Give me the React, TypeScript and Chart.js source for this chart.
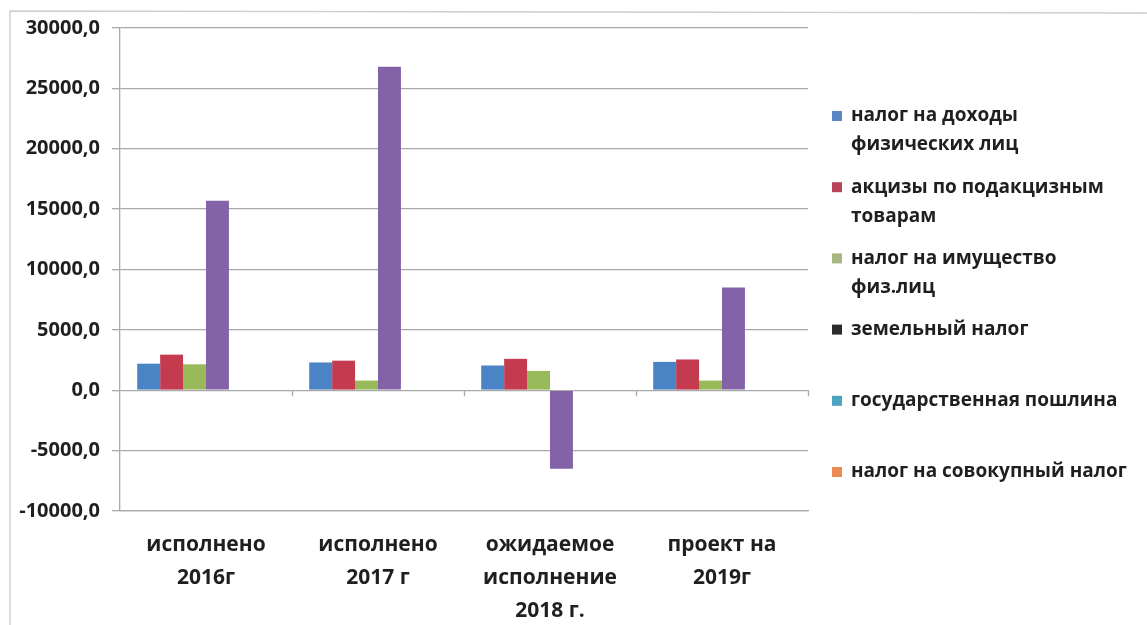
import React, { useEffect, useRef } from "react";
import { Chart, registerables } from "chart.js";

Chart.register(...registerables);

// ---- data ----
const categories: string[][] = [
  ["исполнено", "2016г"],
  ["исполнено", "2017 г"],
  ["ожидаемое", "исполнение", "2018 г."],
  ["проект на", "2019г"],
];

const seriesNames = [
  "налог на доходы физических лиц",
  "акцизы по подакцизным товарам",
  "налог на имущество физ.лиц",
  "земельный налог",
  "государственная пошлина",
  "налог на совокупный налог",
];

const legendLines: string[][] = [
  ["налог на доходы", "физических лиц"],
  ["акцизы по подакцизным", "товарам"],
  ["налог на имущество", "физ.лиц"],
  ["земельный налог"],
  ["государственная пошлина"],
  ["налог на совокупный налог"],
];

const incomeTax = [2200, 2300, 2050, 2350];
const excises = [2950, 2450, 2600, 2550];
const propertyTax = [2150, 800, 1600, 800];
const landTax = [15700, 26800, -6500, 8500];
const stateDuty = [0, 0, 0, 0];
const aggregateTax = [0, 0, 0, 0];

const yMin = -10000;
const yMax = 30000;
const yStep = 5000;

const barColors = ["#4a84c4", "#c43a4f", "#98b95a", "#8462a8", "#4aacc6", "#f79646"];
const legendColors = ["#5a86c3", "#b8455a", "#a7b782", "#2b2b2b", "#4aa3c0", "#ef8a55"];

const FONT = "'Open Sans'";
const TEXT = "#1f1f1f";
const GRID = "#a9a9a9";

const frameAndLegend = {
  id: "frameAndLegend",
  beforeDraw(chart: any) {
    const ctx = chart.ctx;
    ctx.save();
    ctx.fillStyle = "#ffffff";
    ctx.fillRect(0, 0, chart.width, chart.height);
    ctx.strokeStyle = "#cfcfcf";
    ctx.lineWidth = 1.5;
    ctx.beginPath();
    ctx.moveTo(10, 625);
    ctx.lineTo(10, 11);
    ctx.lineTo(1147, 13);
    ctx.stroke();
    ctx.restore();
  },
  afterDatasetsDraw(chart: any) {
    const ctx = chart.ctx;
    const xs = chart.scales.x;
    const ys = chart.scales.y;
    const y0 = ys.getPixelForValue(0);
    ctx.save();
    ctx.strokeStyle = GRID;
    ctx.lineWidth = 1.3;
    ctx.beginPath();
    for (let i = 1; i <= categories.length; i++) {
      const x = Math.round(xs.getPixelForValue(i - 0.5)) + 0.5;
      ctx.moveTo(x, y0);
      ctx.lineTo(x, y0 + 6);
    }
    ctx.stroke();
    ctx.restore();
  },
  afterDraw(chart: any) {
    const ctx = chart.ctx;
    ctx.save();
    ctx.font = `bold 19px ${FONT}`;
    ctx.textBaseline = "middle";
    ctx.textAlign = "left";
    legendLines.forEach((lines, i) => {
      const yc = 116 + i * 71.2;
      ctx.fillStyle = legendColors[i];
      ctx.fillRect(832, yc - 5, 10, 10);
      ctx.fillStyle = TEXT;
      lines.forEach((t, j) => ctx.fillText(t, 851, yc + j * 29));
    });
    ctx.restore();
  },
};

export default function App() {
  const ref = useRef<HTMLCanvasElement | null>(null);

  useEffect(() => {
    document.body.style.margin = "0";
    const canvas = ref.current;
    if (!canvas) return;
    const series = [incomeTax, excises, propertyTax, landTax, stateDuty, aggregateTax];
    const chart = new Chart(canvas, {
      type: "bar",
      data: {
        labels: categories,
        datasets: series.map((d, i) => ({
          label: seriesNames[i],
          data: d,
          backgroundColor: barColors[i],
          borderWidth: 0,
          categoryPercentage: 0.8,
          barPercentage: 1,
        })),
      },
      options: {
        responsive: false,
        animation: false,
        devicePixelRatio: 1,
        layout: { padding: { left: 0, right: 339, top: 28, bottom: 0 } },
        plugins: {
          legend: { display: false },
          tooltip: { enabled: false },
          title: { display: false },
        },
        scales: {
          x: {
            grid: { display: false, drawTicks: false },
            border: { display: true, color: GRID, width: 1.3 },
            ticks: {
              color: TEXT,
              font: { family: FONT, size: 21, weight: "bold", lineHeight: "33px" } as any,
              padding: 18,
              maxRotation: 0,
              autoSkip: false,
            },
            afterFit: (s: any) => {
              s.height = 114;
            },
          },
          y: {
            min: yMin,
            max: yMax,
            ticks: {
              stepSize: yStep,
              color: TEXT,
              font: { family: FONT, size: 20, weight: "bold" },
              padding: 12,
              callback: (v: any) => Number(v).toFixed(1).replace(".", ","),
            },
            grid: { color: GRID, lineWidth: 1.3, tickLength: 8, tickColor: GRID },
            border: { display: true, color: GRID, width: 1.3 },
            afterFit: (s: any) => {
              s.width = 120;
            },
          },
        },
      },
      plugins: [frameAndLegend],
    });
    return () => chart.destroy();
  }, []);

  return (
    <div style={{ position: "absolute", left: 0, top: 0, width: 1147, height: 625 }}>
      <canvas ref={ref} width={1147} height={625} style={{ width: 1147, height: 625 }} />
    </div>
  );
}
